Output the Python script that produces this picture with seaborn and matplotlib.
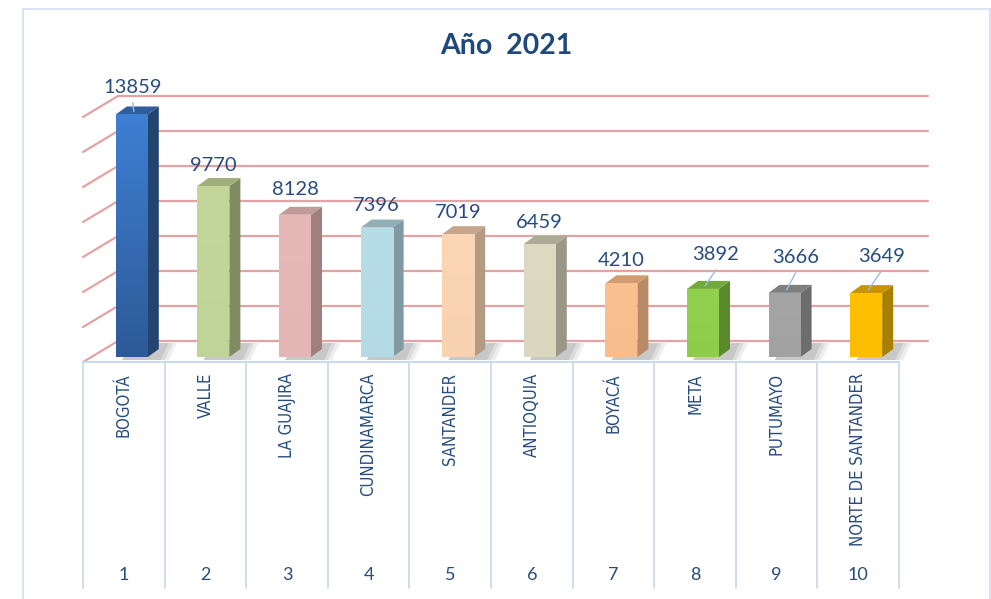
import matplotlib
matplotlib.use("Agg")
import matplotlib.pyplot as plt
from matplotlib import font_manager
from matplotlib.colors import LinearSegmentedColormap
from matplotlib.patches import Polygon, Rectangle
import seaborn as sns
import numpy as np
import pandas as pd

# data
regions = ['BOGOTÁ', 'VALLE', 'LA GUAJIRA', 'CUNDINAMARCA', 'SANTANDER',
           'ANTIOQUIA', 'BOYACÁ', 'META', 'PUTUMAYO', 'NORTE DE SANTANDER']
ranks = [1, 2, 3, 4, 5, 6, 7, 8, 9, 10]
cases = [13859, 9770, 8128, 7396, 7019, 6459, 4210, 3892, 3666, 3649]
grid_levels = [0, 2000, 4000, 6000, 8000, 10000, 12000, 14000]

# excel-like 3d colours: front (top / bottom of the gradient), side, top
front_colors = ['#3E7FD2', '#C3D69B', '#E6B9B8', '#B7DEE8', '#FCD5B5',
                '#DDD9C3', '#FAC090', '#92D050', '#A5A5A5', '#FFC000']
front_bottom = ['#2D5A98', '#C0D398', '#E3B6B5', '#B4DBE5', '#F9D2B2',
                '#DAD6C0', '#F7BD8D', '#8ECC4C', '#A2A2A2', '#FCBD00']
side_colors = ['#22446F', '#7F8C62', '#A07F7E', '#7F9AA2', '#B39A83',
               '#9A9786', '#B88B66', '#5B8A2C', '#6D6D6D', '#A87F00']
top_colors = ['#2F5E9E', '#9EAF7A', '#C19B9A', '#92AEB6', '#C6A58A',
              '#ADA994', '#D09C70', '#72A83C', '#7F7F7F', '#C89500']

# label placement in pixels (lift above bar top, sideways nudge)
label_lift = [27, 21, 25, 22, 21.5, 21, 23, 34, 35, 37]
label_nudge = [1, 0, 0, 0, 0, 0, 0, 13, 11, 15]

TXT = '#264C7E'
GRID = '#E4A3A2'
AXBLUE = '#CCDAEE'

W, H = 991, 599
sns.set_theme(style='white')
plt.rcParams['font.family'] = ['Lato', 'DejaVu Sans']

# narrow font for the category names, if one is around
fonts = font_manager.fontManager.ttflist
cat_font = dict(family=['DejaVu Sans'], fontsize=11)
if any(f.name == 'Liberation Sans Narrow' for f in fonts):
    cat_font = dict(family=['Liberation Sans Narrow', 'DejaVu Sans'], fontsize=13)
elif any(f.name == 'DejaVu Sans' and f.stretch == 'condensed' for f in fonts):
    cat_font = dict(family=['DejaVu Sans'], fontstretch='condensed', fontsize=12)

fig = plt.figure(figsize=(W / 100, H / 100), dpi=100)
ax = fig.add_axes([83 / W, (H - 357) / H, 816 / W, 245 / H])
ax.set_xlim(-0.5, 9.5)
ax.set_ylim(0, 14000)
ax.axis('off')

PX = 10 / 816          # data x per pixel
PY = 14000 / 245       # data y per pixel

df = pd.DataFrame({'region': regions, 'cases': cases})
sns.barplot(data=df, x='region', y='cases', hue='region', palette=front_colors,
            width=32 / 81.6, saturation=1, legend=False, ax=ax, zorder=4)

# back wall gridlines + left wall diagonals
for lv in grid_levels:
    ax.plot([-0.5 + 35 * PX, 9.5 + 29 * PX], [lv + 16 * PY] * 2,
            color=GRID, lw=1.6, clip_on=False, zorder=1)
    ax.plot([-0.5, -0.5 + 35 * PX], [lv - 5 * PY, lv + 16 * PY],
            color=GRID, lw=1.6, clip_on=False, zorder=1)

bars = sorted(ax.patches, key=lambda p: p.get_x())
dx, dy = 11 * PX, 8 * PY
grad = np.linspace(1, 0, 64).reshape(-1, 1)
for i, p in enumerate(bars):
    p.set_x(p.get_x() + 8 * PX)
    p.set_edgecolor('none')
    p.set_clip_on(False)
    x0 = p.get_x()
    x1 = x0 + p.get_width()
    v = p.get_height()
    # vertical gradient on the front face
    cmap = LinearSegmentedColormap.from_list(f'g{i}', [front_bottom[i], front_colors[i]])
    im = ax.imshow(grad, cmap=cmap, extent=(x0, x1, 0, v), aspect='auto',
                   origin='upper', zorder=4.5, vmin=0, vmax=1)
    im.set_clip_path(p)
    # soft shadow on the floor
    for k, a in enumerate([0.10, 0.12, 0.16]):
        g = 10 - 4 * k
        ax.add_patch(Polygon([(x0 + 6 * PX, -3 * PY), (x1 + dx + g * PX, -3 * PY),
                              (x1 + dx + (g + 8) * PX, 14 * PY), (x0 + dx + 6 * PX, 14 * PY)],
                             closed=True, fc='#606060', ec='none', alpha=a,
                             clip_on=False, zorder=2))
    ax.add_patch(Polygon([(x1, 0), (x1, v), (x1 + dx, v + dy), (x1 + dx, dy)],
                         closed=True, fc=side_colors[i], ec='none',
                         clip_on=False, zorder=3))
    ax.add_patch(Polygon([(x0, v), (x1, v), (x1 + dx, v + dy), (x0 + dx, v + dy)],
                         closed=True, fc=top_colors[i], ec='none',
                         clip_on=False, zorder=4))
    cx = (x0 + x1) / 2
    lx = cx + label_nudge[i] * PX
    ly = v + label_lift[i] * PY
    ax.text(lx, ly, f'{cases[i]}', ha='center', va='center', fontsize=14.5,
            color=TXT, zorder=6, clip_on=False)
    if label_lift[i] > 26:
        ax.plot([lx, cx + 2 * PX], [v + (label_lift[i] - 15) * PY, v + 3 * PY],
                color='#9DBBE0', lw=1, zorder=5, clip_on=False)

ax.set_xlim(-0.5, 9.5)
ax.set_ylim(0, 14000)

# category axis
ax.plot([-0.5, 9.5], [-5 * PY] * 2, color=AXBLUE, lw=1.5, clip_on=False)
for b in np.arange(-0.5, 10.5, 1):
    ax.plot([b, b], [-5 * PY, -231 * PY], color=AXBLUE, lw=1.3, clip_on=False)
for i, r in enumerate(regions):
    ax.text(i, -16 * PY, r, rotation=90, ha='center', va='top',
            color=TXT, clip_on=False, **cat_font)
    ax.text(i, -218 * PY, str(ranks[i]), ha='center', va='center', fontsize=13,
            color=TXT, clip_on=False)

fig.add_artist(Rectangle((23 / W, -0.01), (990 - 23) / W, (H - 9) / H + 0.01,
                         transform=fig.transFigure, fill=False,
                         ec='#DAE3F1', lw=1.5))
fig.text(506 / W, 1 - 46 / H, 'Año  2021', ha='center', va='center',
         fontsize=20.5, fontweight='bold', color='#1F497D')

fig.savefig('out.png', dpi=100)
